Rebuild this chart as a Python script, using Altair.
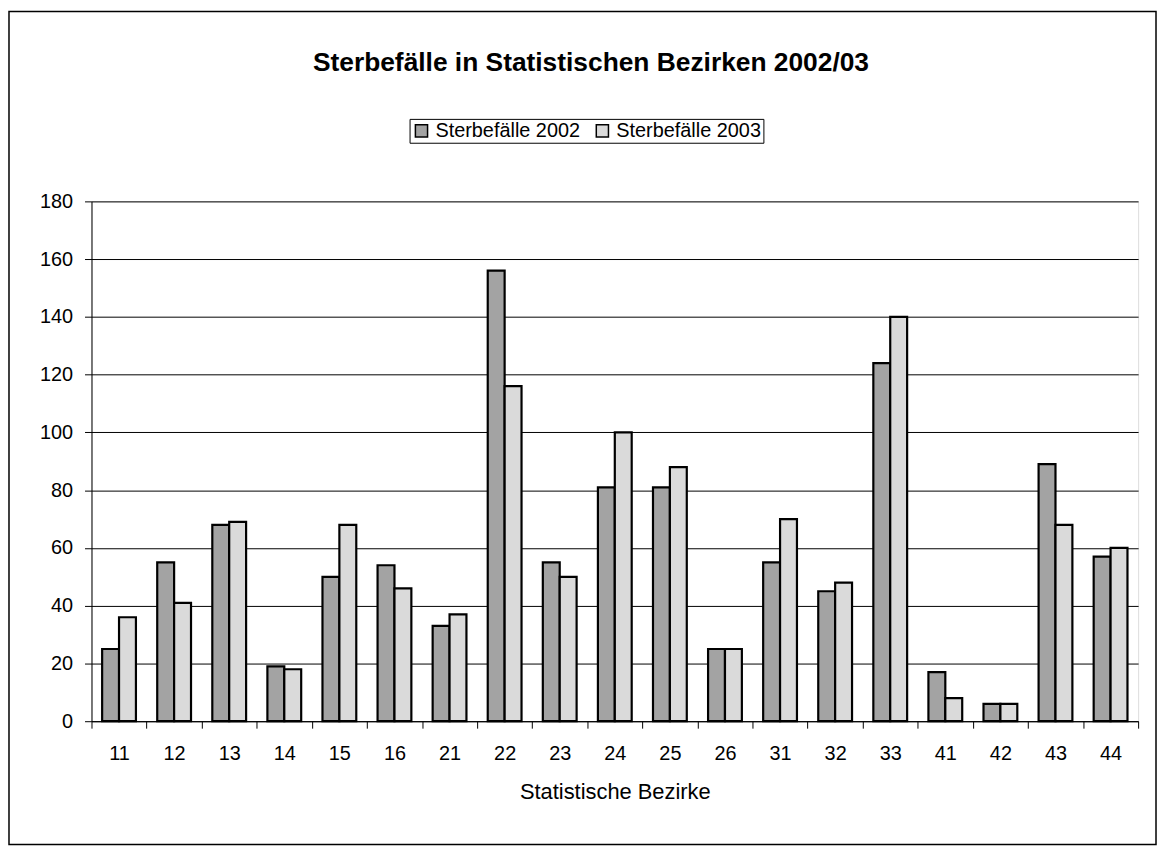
import altair as alt
import pandas as pd

districts = ["11", "12", "13", "14", "15", "16", "21", "22", "23", "24",
             "25", "26", "31", "32", "33", "41", "42", "43", "44"]
v2002 = [25, 55, 68, 19, 50, 54, 33, 156, 55, 81, 81, 25, 55, 45, 124, 17, 6, 89, 57]
v2003 = [36, 41, 69, 18, 68, 46, 37, 116, 50, 100, 88, 25, 70, 48, 140, 8, 6, 68, 60]
series = ["Sterbefälle 2002", "Sterbefälle 2003"]
y_ticks = [0, 20, 40, 60, 80, 100, 120, 140, 160, 180]

rows = []
for d, a, b in zip(districts, v2002, v2003):
    rows.append({"Bezirk": d, "Reihe": series[0], "Wert": a})
    rows.append({"Bezirk": d, "Reihe": series[1], "Wert": b})
df = pd.DataFrame(rows)

FONT = "Liberation Sans"
W, H = 1053, 523

bars = alt.Chart(df).mark_bar(stroke="black", strokeWidth=2.2).encode(
    x=alt.X("Bezirk:N", sort=districts,
            scale=alt.Scale(paddingInner=0, paddingOuter=0),
            axis=alt.Axis(title="Statistische Bezirke", labelAngle=0,
                          labelFontSize=20, labelFont=FONT, labelColor="black",
                          titleFontSize=22, titleFont=FONT, titleFontWeight="normal",
                          titleColor="black", titlePadding=18,
                          tickBand="extent", tickSize=7, tickColor="black",
                          domainColor="black", labelPadding=16, grid=False)),
    xOffset=alt.XOffset("Reihe:N", sort=series,
                        scale=alt.Scale(paddingInner=0, paddingOuter=0.63)),
    y=alt.Y("Wert:Q", scale=alt.Scale(domain=[0, 180], nice=False),
            axis=alt.Axis(title=None, values=y_ticks, labelFontSize=20,
                          labelFont=FONT, labelColor="black", tickSize=7,
                          tickColor="black", domainColor="black",
                          labelPadding=12, grid=True, gridColor="black",
                          gridWidth=1, gridOpacity=1)),
    fill=alt.Fill("Reihe:N", sort=series,
                  scale=alt.Scale(domain=series, range=["#a3a3a3", "#dadada"]),
                  legend=alt.Legend(title=None, orient="none", legendX=320,
                                    legendY=-83, direction="horizontal",
                                    strokeColor="black", padding=2,
                                    labelFontSize=20, labelFont=FONT,
                                    labelColor="black", symbolType="square",
                                    symbolSize=150, symbolStrokeColor="black",
                                    symbolStrokeWidth=1.5, columnPadding=12,
                                    labelOffset=4)),
)

frame = alt.Chart(pd.DataFrame({"a": [0]})).mark_rect(
    fill=None, stroke="black", strokeWidth=1.5
).encode(
    x=alt.value(-83), x2=alt.value(W + 18),
    y=alt.value(-191), y2=alt.value(H + 124),
)

chart = alt.layer(frame, bars).properties(
    width=W, height=H,
    autosize=alt.AutoSizeParams(type="none"),
    padding={"left": 84, "top": 192, "right": 19, "bottom": 125},
    title=alt.Title("Sterbefälle in Statistischen Bezirken 2002/03",
                    font=FONT, fontSize=26.5, fontWeight="bold", color="black",
                    anchor="middle", dx=-24, offset=-66),
).configure_view(stroke="black", strokeWidth=1).configure(background="white")

chart.save("out.html", embed_options={"renderer": "svg", "actions": False})
